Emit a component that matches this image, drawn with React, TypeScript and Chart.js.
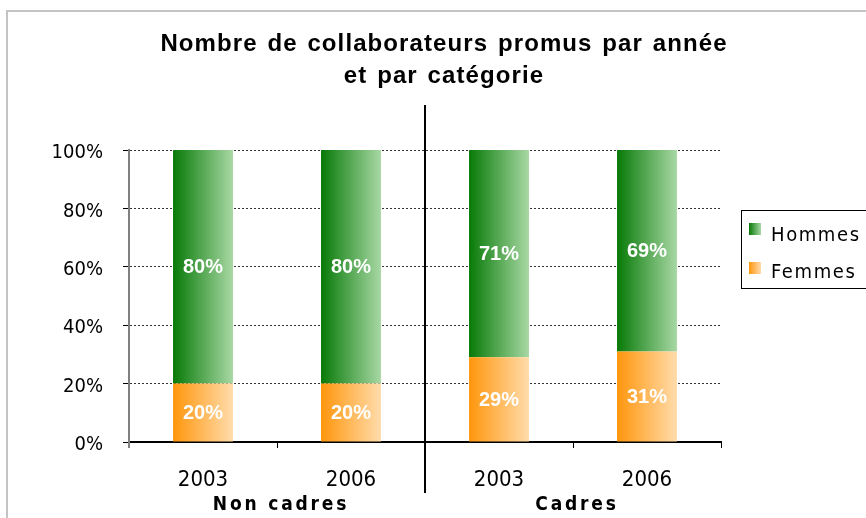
import React, { useEffect, useRef } from 'react';
import { Chart, registerables } from 'chart.js';

Chart.register(...registerables);

const titleLines = ['Nombre de collaborateurs promus par année', 'et par catégorie'];
const groupNames = ['Non cadres', 'Cadres'];
const groupSizes = [2, 2];
const categories = ['2003', '2006', '2003', '2006'];
const seriesNames = ['Hommes', 'Femmes'];
const hommes = [80, 80, 71, 69];
const femmes = [20, 20, 29, 31];
const yTickStep = 20;

const BAR_PCT = 0.405;
const GREEN = ['#077a07', '#a8d8a4'];
const ORANGE = ['#ff960c', '#ffdcab'];

const tickFont = "'DejaVu Sans Condensed', 'DejaVu Sans', sans-serif";

const makeGrad = (stops: string[]) => (c: any) => {
  if (c.type !== 'data') return stops[0];
  const chart = c.chart;
  const xs = chart.scales && chart.scales.x;
  if (!xs || !chart.chartArea) return stops[0];
  const cx = xs.getPixelForValue(c.dataIndex);
  const w = (xs.width / chart.data.labels.length) * BAR_PCT;
  const g = chart.ctx.createLinearGradient(cx - w / 2, 0, cx + w / 2, 0);
  g.addColorStop(0, stops[0]);
  g.addColorStop(1, stops[1]);
  return g;
};

const decor = {
  id: 'decor',
  afterDatasetsDraw(chart: any) {
    const ctx = chart.ctx;
    ctx.save();
    ctx.font = "bold 20px 'Liberation Sans', Arial, sans-serif";
    ctx.fillStyle = '#ffffff';
    ctx.textAlign = 'center';
    ctx.textBaseline = 'middle';
    chart.data.datasets.forEach((ds: any, di: number) => {
      const meta = chart.getDatasetMeta(di);
      meta.data.forEach((el: any, i: number) => {
        const cy = (el.y + el.base) / 2;
        ctx.fillText(ds.data[i] + '%', el.x, cy + 1);
      });
    });
    ctx.restore();
  },
  afterDraw(chart: any) {
    const ctx = chart.ctx;
    const xs = chart.scales.x;
    const area = chart.chartArea;
    ctx.save();
    // outer border
    ctx.strokeStyle = '#c4c4c4';
    ctx.lineWidth = 2;
    ctx.strokeRect(7, 11, chart.width + 10, chart.height + 10);

    // y axis extension below the x axis
    ctx.strokeStyle = '#808080';
    ctx.beginPath();
    ctx.moveTo(area.left, area.bottom);
    ctx.lineTo(area.left, area.bottom + 6);
    ctx.stroke();

    // title
    ctx.fillStyle = '#000';
    ctx.textAlign = 'center';
    ctx.textBaseline = 'alphabetic';
    ctx.font = "bold 24px 'Liberation Sans', Arial, sans-serif";
    (ctx as any).letterSpacing = '1.1px';
    (ctx as any).wordSpacing = '2px';
    ctx.fillText(titleLines[0], 444, 51);
    ctx.fillText(titleLines[1], 444, 83);
    (ctx as any).wordSpacing = '0px';

    // separators between groups
    ctx.strokeStyle = '#000';
    ctx.lineWidth = 2;
    let idx = 0;
    const centers: number[] = [];
    groupSizes.forEach((n, gi) => {
      const first = xs.getPixelForValue(idx);
      const last = xs.getPixelForValue(idx + n - 1);
      centers.push((first + last) / 2);
      idx += n;
      if (gi < groupSizes.length - 1) {
        const sx = (xs.getPixelForValue(idx - 1) + xs.getPixelForValue(idx)) / 2;
        ctx.beginPath();
        ctx.moveTo(sx, 105);
        ctx.lineTo(sx, 493);
        ctx.stroke();
      }
    });

    // group labels
    ctx.font = "bold 19px " + tickFont;
    (ctx as any).letterSpacing = '2.8px';
    ctx.fillStyle = '#000';
    groupNames.forEach((g, gi) => {
      ctx.fillText(g, centers[gi] + 4, 510);
    });

    // legend
    ctx.lineWidth = 1;
    ctx.strokeStyle = '#000';
    ctx.strokeRect(741.5, 210.5, 140, 78);
    const order = [0, 1];
    const grads = [GREEN, ORANGE];
    const swatchY = [223, 262];
    const textY = [241, 278];
    ctx.textAlign = 'left';
    ctx.font = "20px " + tickFont;
    (ctx as any).letterSpacing = '1.6px';
    order.forEach((k, j) => {
      const g = ctx.createLinearGradient(749, 0, 761, 0);
      g.addColorStop(0, grads[k][0]);
      g.addColorStop(1, grads[k][1]);
      ctx.fillStyle = g;
      ctx.fillRect(749, swatchY[j], 12, 12);
      ctx.fillStyle = '#000';
      ctx.fillText(seriesNames[k], 771, textY[j]);
    });
    (ctx as any).letterSpacing = '0px';
    ctx.restore();
  },
};

export default function App() {
  const ref = useRef<HTMLCanvasElement>(null);
  useEffect(() => {
    const chart = new Chart(ref.current as HTMLCanvasElement, {
      type: 'bar',
      data: {
        labels: categories,
        datasets: [
          {
            label: seriesNames[1],
            data: femmes,
            backgroundColor: makeGrad(ORANGE) as any,
            borderWidth: 0,
            categoryPercentage: 1,
            barPercentage: BAR_PCT,
          },
          {
            label: seriesNames[0],
            data: hommes,
            backgroundColor: makeGrad(GREEN) as any,
            borderWidth: 0,
            categoryPercentage: 1,
            barPercentage: BAR_PCT,
          },
        ],
      },
      options: {
        responsive: false,
        animation: false,
        layout: { padding: { top: 150, right: 145, left: 0, bottom: 0 } },
        plugins: {
          legend: { display: false },
          title: { display: false },
          tooltip: { enabled: false },
        },
        scales: {
          x: {
            stacked: true,
            grid: {
              display: true,
              drawOnChartArea: false,
              drawTicks: true,
              tickLength: 6,
              color: '#000',
              lineWidth: 1,
              offset: true,
            },
            border: { display: true, color: '#000', width: 2 },
            ticks: {
              color: '#000',
              padding: 19,
              font: { family: tickFont, size: 22 },
            },
            afterFit: (s: any) => {
              s.height = 76;
            },
          },
          y: {
            stacked: true,
            min: 0,
            max: 100,
            ticks: {
              stepSize: yTickStep,
              callback: (v: any) => v + '%',
              padding: 20,
              color: '#000',
              labelOffset: 3,
              font: { family: tickFont, size: 20 },
            },
            grid: {
              color: '#333',
              lineWidth: 1,
              tickLength: 6,
              tickColor: '#000',
              tickBorderDash: [],
            },
            border: { display: true, color: '#808080', width: 2, dash: [2, 2] },
            afterFit: (s: any) => {
              s.width = 129;
            },
          },
        },
      },
      plugins: [decor],
    });
    return () => chart.destroy();
  }, []);
  return (
    <div style={{ position: 'absolute', left: 0, top: 0, width: 866, height: 518 }}>
      <canvas ref={ref} width={866} height={518} style={{ display: 'block' }} />
    </div>
  );
}
